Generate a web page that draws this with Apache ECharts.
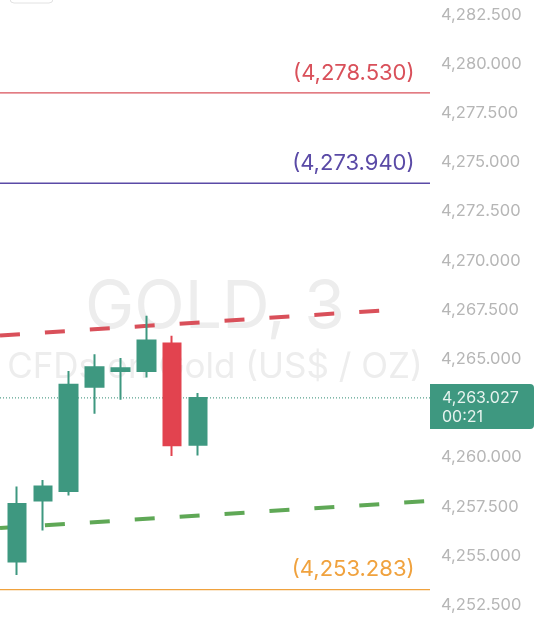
<!DOCTYPE html>
<html>
<head>
<meta charset="utf-8">
<script src="https://cdn.jsdelivr.net/npm/echarts@6/dist/echarts.min.js"></script>
<style>
  html, body { margin: 0; padding: 0; background: #fff; }
  #chart { width: 540px; height: 625px; }
</style>
</head>
<body>
<div id="chart"></div>
<script>
// 3-minute candles, index / open / close / low / high
const candleIndex = [0, 1, 2, 3, 4, 5, 6, 7];
const opens  = [4254.71, 4257.81, 4258.30, 4263.60, 4264.40, 4264.40, 4265.79, 4260.64];
const closes = [4257.64, 4258.52, 4263.69, 4264.59, 4264.54, 4265.94, 4260.62, 4263.027];
const lows   = [4254.03, 4256.29, 4258.07, 4262.22, 4262.93, 4264.06, 4260.08, 4260.10];
const highs  = [4258.52, 4258.86, 4264.40, 4265.25, 4265.05, 4267.20, 4266.18, 4263.27];

// visible x range, in candle index units
const xMin = -0.657;
const xMax = 15.97;

// y ticks
const yMin = 4250;
const yMax = 4285;
const yStep = 2.5;

// horizontal price levels
const levelValues = [4278.53, 4273.94, 4253.283];
const levelColors = ['#d9505a', '#5a4aa6', '#f0a23e'];
const lastPrice = 4263.027;
const lastTime = '00:21';

// trend lines [x, price]
const upperTrend = [[xMin, 4266.20], [14.8, 4267.53]];
const lowerTrend = [[xMin, 4256.41], [xMax, 4257.79]];

const UP = '#3e9880';
const DOWN = '#e2434f';
const FONT = 'Inter, Roboto, sans-serif';

function fmt(v) {
  const s = v.toFixed(3);
  const parts = s.split('.');
  return parts[0].replace(/\B(?=(\d{3})+(?!\d))/g, ',') + '.' + parts[1];
}

const candleData = candleIndex.map((x, i) => [x, opens[i], closes[i], lows[i], highs[i]]);

const chart = echarts.init(document.getElementById('chart'));

// a flat line series per price level, with its price tag above the right end
const levelSeries = levelValues.map((v, i) => ({
  type: 'line',
  data: [[xMin, v], [xMax, v]],
  symbol: 'none',
  z: 3,
  lineStyle: { color: levelColors[i], width: 1.4, type: 'solid' },
  markPoint: {
    silent: true,
    symbol: 'circle',
    symbolSize: 1,
    itemStyle: { color: 'rgba(0,0,0,0)' },
    label: {
      show: true,
      position: 'left',
      distance: 5,
      offset: [-10, -20],
      color: levelColors[i],
      fontFamily: FONT,
      fontSize: 22,
      formatter: '(' + fmt(v) + ')',
    },
    data: [{ coord: [xMax, v] }],
  },
}));

const option = {
  animation: false,
  backgroundColor: '#ffffff',
  grid: {
    left: 0,
    right: 110,
    top: -34.4,
    bottom: -29.2,
    outerBoundsMode: 'none',
    containLabel: false,
  },
  xAxis: {
    type: 'value',
    min: xMin,
    max: xMax,
    show: false,
  },
  yAxis: {
    type: 'value',
    position: 'right',
    min: yMin,
    max: yMax,
    interval: yStep,
    axisLine: { show: false },
    axisTick: { show: false },
    splitLine: { show: false },
    axisLabel: {
      margin: 11,
      color: '#b6b6b6',
      fontFamily: FONT,
      fontSize: 16.5,
      formatter: (v) => fmt(v),
    },
  },
  graphic: [
    {
      type: 'text',
      x: 215,
      y: 308,
      z: 0,
      silent: true,
      style: {
        text: 'GOLD, 3',
        fill: '#ededed',
        font: '66px ' + FONT,
        textAlign: 'center',
        textVerticalAlign: 'middle',
      },
    },
    {
      type: 'text',
      x: 215,
      y: 367,
      z: 0,
      silent: true,
      style: {
        text: 'CFDs on Gold (US$ / OZ)',
        fill: '#ededed',
        font: '35px ' + FONT,
        textAlign: 'center',
        textVerticalAlign: 'middle',
      },
    },
    {
      type: 'rect',
      z: 0,
      silent: true,
      shape: { x: 10, y: -30, width: 43, height: 33, r: 4 },
      style: { fill: '#fff', stroke: '#e2e2e2', lineWidth: 1 },
    },
  ],
  series: levelSeries.concat([
    {
      type: 'line',
      data: upperTrend,
      symbol: 'none',
      z: 3,
      lineStyle: { color: '#d9505a', width: 4, type: [20, 25] },
    },
    {
      type: 'line',
      data: lowerTrend,
      symbol: 'none',
      z: 3,
      lineStyle: { color: '#5fa856', width: 4, type: [20, 25] },
    },
    {
      type: 'line',
      data: [[xMin, lastPrice], [xMax, lastPrice]],
      symbol: 'none',
      z: 3,
      lineStyle: { color: '#2f8a72', width: 1, type: [1, 2] },
    },
    {
      type: 'candlestick',
      data: candleData,
      encode: { x: 0, y: [1, 2, 3, 4] },
      barWidth: 18,
      z: 4,
      itemStyle: {
        color: UP,
        color0: DOWN,
        borderColor: UP,
        borderColor0: DOWN,
        borderWidth: 2,
      },
      markPoint: {
        silent: true,
        data: [
          {
            coord: [xMax, lastPrice],
            symbol: 'path://M0,0 H100 Q104,0 104,4 V41 Q104,45 100,45 H0 Z',
            symbolSize: [104, 45],
            symbolOffset: [52, 8.5],
            itemStyle: { color: UP },
            label: {
              show: true,
              position: [12, 5],
              align: 'left',
              verticalAlign: 'top',
              lineHeight: 19,
              color: '#e6f3ee',
              fontFamily: FONT,
              fontSize: 16,
              formatter: fmt(lastPrice) + '\n' + lastTime,
            },
          },
        ],
      },
    },
  ]),
};

chart.setOption(option);
</script>
</body>
</html>
